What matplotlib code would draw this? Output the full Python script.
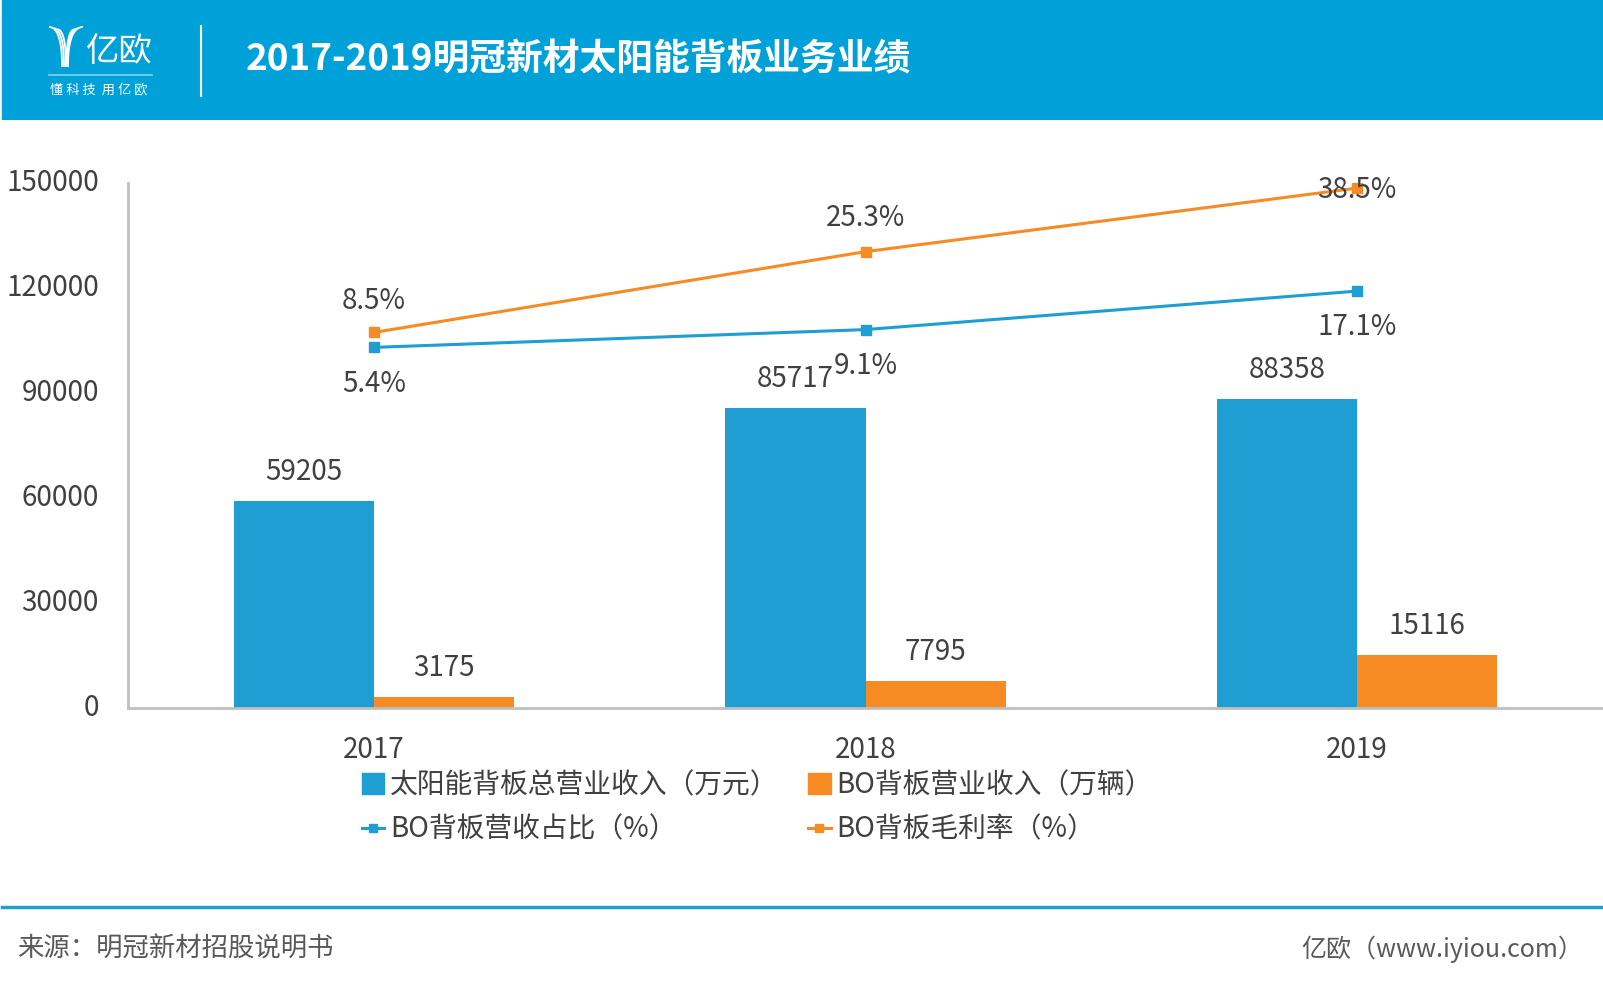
import numpy as np
import matplotlib
matplotlib.use("Agg")
import matplotlib.pyplot as plt
from matplotlib.patches import Rectangle, Patch
from matplotlib.lines import Line2D

plt.rcParams['font.family'] = ['Noto Sans CJK SC', 'DejaVu Sans']

# data
years = ['2017', '2018', '2019']
total_rev = [59205, 85717, 88358]      # 太阳能背板总营业收入（万元）
bo_rev = [3175, 7795, 15116]           # BO背板营业收入
bo_share = [5.4, 9.1, 17.1]            # BO背板营收占比（%）
bo_margin = [8.5, 25.3, 38.5]          # BO背板毛利率（%）
yticks = [0, 30000, 60000, 90000, 120000, 150000]

title = '2017-2019明冠新材太阳能背板业务业绩'
source = '来源：明冠新材招股说明书'
site = '亿欧（www.iyiou.com）'

BLUE = '#1E9ED2'
ORANGE = '#F68B24'
HEAD = '#00A1D9'
TXT = '#404040'

W, H = 1603, 986
fig = plt.figure(figsize=(W / 100, H / 100), dpi=100)

# ---- header band
hax = fig.add_axes([0, 1 - 120 / H, 1, 120 / H])
hax.set_xlim(0, W)
hax.set_ylim(120, 0)
hax.axis('off')
hax.add_patch(Rectangle((2, 0), W - 2, 120, color=HEAD))
# logo: stylised Y
t = np.linspace(0, 1, 30)
for k, off in enumerate([0, 4, 8]):
    x0, y0 = 50 + off, 27 + off * 0.3
    xs = (1 - t) ** 2 * x0 + 2 * (1 - t) * t * (62 + off * 0.5) + t ** 2 * (62 + off * 0.5)
    ys = (1 - t) ** 2 * y0 + 2 * (1 - t) * t * (y0 + 2) + t ** 2 * 66
    hax.plot(xs, ys, color='white', lw=1.3)
    x1 = 82 - off
    xs = (1 - t) ** 2 * x1 + 2 * (1 - t) * t * (68 - off * 0.2) + t ** 2 * (68 - off * 0.2)
    ys = (1 - t) ** 2 * y0 + 2 * (1 - t) * t * (y0 + 2) + t ** 2 * 66
    hax.plot(xs, ys, color='white', lw=1.3)
hax.text(86, 51, '亿欧', color='white', fontsize=24, fontweight='light', va='center', ha='left')
hax.plot([49, 152], [75, 75], color='#7FD3F0', lw=1.2)
hax.text(50, 90, '懂 科 技  用 亿 欧', color='white', fontsize=9.5, va='center', ha='left')
hax.plot([201, 201], [26, 96], color='white', lw=1.5)
hax.text(246, 60, title, color='white', fontsize=26.5, fontweight='black', va='center', ha='left')

# ---- main chart
ax = fig.add_axes([128 / W, 1 - 708.3 / H, 1 - 128 / W, 525 / H])
x = np.arange(len(years))
bw = 0.285
b1 = ax.bar(x - bw / 2, total_rev, bw, color=BLUE, zorder=2)
b2 = ax.bar(x + bw / 2, bo_rev, bw, color=ORANGE, zorder=2)
ax.set_xlim(-0.5, 2.5)
ax.set_ylim(0, 150000)
ax.set_yticks(yticks)
ax.set_yticklabels([str(v) for v in yticks])
ax.set_xticks(x)
ax.set_xticklabels(years)
ax.tick_params(axis='y', length=0, pad=21, labelsize=20, labelcolor=TXT)
ax.tick_params(axis='x', length=0, pad=19, labelsize=20, labelcolor=TXT)
for s in ['top', 'right']:
    ax.spines[s].set_visible(False)
for s in ['left', 'bottom']:
    ax.spines[s].set_color('#BFBFBF')
    ax.spines[s].set_linewidth(2)
for lab in ax.get_xticklabels() + ax.get_yticklabels():
    lab.set_fontweight('light')
for lab in ax.get_yticklabels():
    lab.set_va('center')

for bars, vals in [(b1, total_rev), (b2, bo_rev)]:
    for r, v in zip(bars, vals):
        ax.annotate(str(v), (r.get_x() + r.get_width() / 2, v), xytext=(0, 21),
                    textcoords='offset points', ha='center', va='center',
                    fontsize=20, color=TXT, fontweight='light')

ax2 = ax.twinx()
ax2.set_ylim(-69.6, 39.5)
ax2.axis('off')
ax2.plot(x, bo_margin, color=ORANGE, lw=2.2, marker='s', ms=7, zorder=3)
ax2.plot(x, bo_share, color=BLUE, lw=2.2, marker='s', ms=7, zorder=3)
margin_off = [23, 24, -1]
for xi, v, o in zip(x, bo_margin, margin_off):
    ax2.annotate(f'{v}%', (xi, v), xytext=(0, o), textcoords='offset points',
                 ha='center', va='center', fontsize=20, color=TXT, fontweight='light')
for xi, v in zip(x, bo_share):
    ax2.annotate(f'{v}%', (xi, v), xytext=(0, -26), textcoords='offset points',
                 ha='center', va='center', fontsize=20, color=TXT, fontweight='light')

# ---- legend
handles = [Patch(color=BLUE), Line2D([], [], color=BLUE, lw=2.2, marker='s', ms=6),
           Patch(color=ORANGE), Line2D([], [], color=ORANGE, lw=2.2, marker='s', ms=6)]
labels = ['太阳能背板总营业收入（万元）', 'BO背板营收占比（%）',
          'BO背板营业收入（万辆）', 'BO背板毛利率（%）']
leg = fig.legend(handles, labels, ncol=2, loc='upper left',
                 bbox_to_anchor=(362 / W, 1 - 770 / H), frameon=False,
                 prop={'size': 20, 'weight': 'light'}, handlelength=0.8, handleheight=0.8,
                 handletextpad=0.2, columnspacing=1.08, labelspacing=0.53,
                 borderpad=0, borderaxespad=0)
for tx in leg.get_texts():
    tx.set_color(TXT)

# ---- footer
fig.add_artist(Line2D([2 / W, 1], [1 - 907 / H, 1 - 907 / H], color='#1E9ED2', lw=2.5))
fig.text(17 / W, 1 - 949 / H, source, fontsize=19, color='#595959', va='center', ha='left',
         fontweight='light')
fig.text(1583 / W, 1 - 949 / H, site, fontsize=18, color='#595959', va='center', ha='right',
         fontweight='light')

fig.savefig('out.png', dpi=100)
